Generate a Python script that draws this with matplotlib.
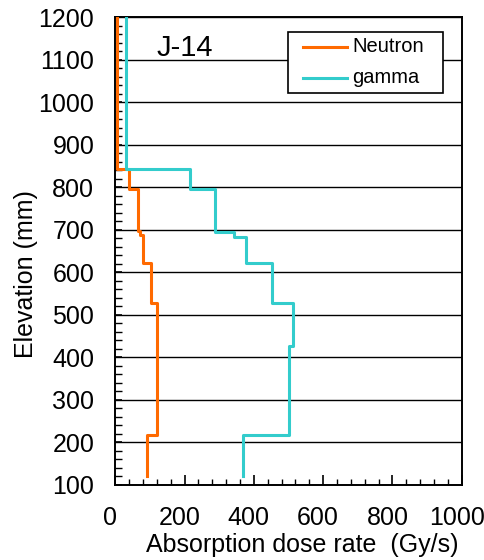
import numpy as np
import matplotlib.pyplot as plt
from matplotlib.ticker import MultipleLocator
from matplotlib.patches import Rectangle
from matplotlib.transforms import ScaledTranslation

plt.rcParams['font.family'] = ['Liberation Sans', 'DejaVu Sans']

# Elevation boundaries (mm) of each step segment, top to bottom
neutron_edges = [1200, 843, 796, 698, 688, 622, 529, 218, 120]
neutron_rate = [6, 40, 66, 73, 80, 102, 120, 91]

gamma_edges = [1200, 843, 796, 695, 684, 622, 529, 427, 218, 120]
gamma_rate = [31, 215, 287, 344, 378, 452, 512, 502, 370]

series_names = ["Neutron", "gamma"]
series_colors = ['#FF6A00', '#33CCCC']
label_text = "J-14"


def profile(edges, rates):
    """Turn segment edges and rates into a vertical step line."""
    xs, ys = [], []
    for i, r in enumerate(rates):
        xs += [r, r]
        ys += [edges[i], edges[i + 1]]
    return xs, ys


fig = plt.figure(figsize=(4.84, 5.6), dpi=100)
ax = fig.add_axes([0.238, 0.134, 0.716, 0.835])

nx, ny = profile(neutron_edges, neutron_rate)
gx, gy = profile(gamma_edges, gamma_rate)
ax.plot(nx, ny, color=series_colors[0], lw=2.2, zorder=3)
ax.plot(gx, gy, color=series_colors[1], lw=2.2, zorder=3)

ax.set_xlim(0, 1000)
ax.set_ylim(100, 1200)
ax.xaxis.set_major_locator(MultipleLocator(200))
ax.xaxis.set_minor_locator(MultipleLocator(40))
ax.yaxis.set_major_locator(MultipleLocator(100))
ax.yaxis.set_minor_locator(MultipleLocator(20))

ax.grid(axis='y', which='major', color='black', lw=1.0)
ax.tick_params(which='both', direction='in', colors='black', labelsize=18)
ax.tick_params(axis='x', which='major', length=7, width=1.2, pad=15)
ax.tick_params(axis='x', which='minor', length=4, width=1.0)
ax.tick_params(axis='y', which='major', length=5, width=1.2, pad=15)
ax.tick_params(axis='y', which='minor', length=5, width=1.0)
for s in ax.spines.values():
    s.set_linewidth(1.4)
    s.set_color('black')

# x tick labels sit a few pixels left of their ticks in the original
shift = ScaledTranslation(-5 / 100, 0, fig.dpi_scale_trans)
for lbl in ax.get_xticklabels():
    lbl.set_transform(lbl.get_transform() + shift)

ax.set_xlabel("Absorption dose rate  (Gy/s)", fontsize=18)
ax.xaxis.set_label_coords(0.54, -0.103)
ax.set_ylabel("Elevation (mm)", fontsize=18)
ax.yaxis.set_label_coords(-0.222, 0.45)

ax.text(120, 1129, label_text, fontsize=21, va='center', ha='left')

# Legend box drawn by hand so the padding matches
ax.add_patch(Rectangle((0.4986, 0.8385), 0.4474, 0.1305, transform=ax.transAxes,
                       facecolor='white', edgecolor='black', lw=1.2, zorder=5))
leg_y = [0.9376, 0.8712]
for name, col, yy in zip(series_names, series_colors, leg_y):
    ax.plot([0.5418, 0.6688], [yy, yy], color=col, lw=2.2,
            transform=ax.transAxes, zorder=6)
    ax.text(0.683, yy, name, fontsize=14.5, va='center', ha='left',
            transform=ax.transAxes, zorder=6)

plt.savefig("out.png", dpi=100)
